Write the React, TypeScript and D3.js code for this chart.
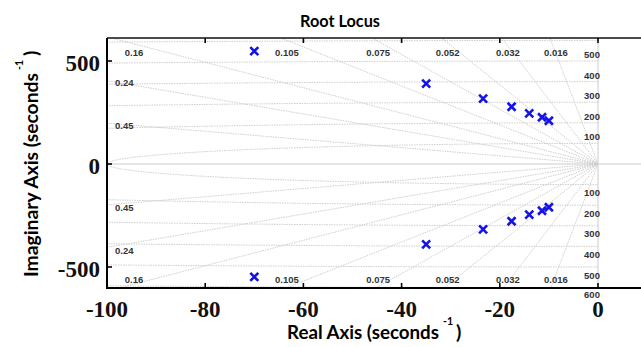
import React from "react";
import * as d3 from "d3";

const W = 641;
const H = 347;

const xTicks = [-100, -80, -60, -40, -20, 0];
const yTicks = [-500, 0, 500];
const dampingTop = [0.16, 0.105, 0.075, 0.052, 0.032, 0.016];
const dampingLeft = [0.24, 0.45];
const naturalFreqs = [100, 200, 300, 400, 500, 600];
const poleRe = [-70, -35, -23.4, -17.6, -14, -11.4, -10];
const poleIm = [548, 390, 317, 278, 246, 227, 210];

const PL = 107, PR = 641, PT = 38, PB = 288;

export default function App() {
  const x = d3.scaleLinear().domain([-100, 0]).range([107, 598]);
  const y = d3.scaleLinear().domain([-500, 500]).range([267, 61]);
  const allDamping = [...dampingTop, ...dampingLeft];
  const line = d3.line<[number, number]>().x((d) => x(d[0])).y((d) => y(d[1]));
  const arcPts = (r: number) =>
    d3.range(0, 181, 1).map((a) => {
      const t = Math.PI / 2 + (a * Math.PI) / 180;
      return [r * Math.cos(t), r * Math.sin(t)] as [number, number];
    });
  const gridStyle = { stroke: "#c8c8c8", strokeWidth: 0.9, fill: "none", strokeDasharray: "1.5,1" };
  const small = { fontFamily: "Liberation Sans, Arial, sans-serif", fontSize: 9.5, fontWeight: 700, fill: "#333" };
  const tickFont = { fontFamily: "Liberation Serif, Times New Roman, serif", fontSize: 23, fontWeight: 700, fill: "#111" };
  const labFont = { fontFamily: "Lato, Calibri, sans-serif", fontSize: 19.5, fontWeight: 700, fill: "#000" };
  const topVal = y.invert(PT);

  return (
    <svg width={W} height={H} style={{ position: "absolute", left: 0, top: 0, background: "#fff" }}>
      <defs>
        <clipPath id="plot">
          <rect x={PL} y={PT} width={PR - PL} height={PB - PT} />
        </clipPath>
      </defs>
      <g clipPath="url(#plot)">
        {allDamping.map((z) => {
          const s = Math.sqrt(1 - z * z) / z;
          return (
            <g key={z}>
              <path d={line([[0, 0], [-200, 200 * s]]) || ""} style={gridStyle} />
              <path d={line([[0, 0], [-200, -200 * s]]) || ""} style={gridStyle} />
            </g>
          );
        })}
        {naturalFreqs.map((r) => (
          <path key={r} d={line(arcPts(r)) || ""} style={gridStyle} />
        ))}
        <line x1={PL} x2={PR} y1={y(0)} y2={y(0)} stroke="#cccccc" strokeWidth={1} />
        <line x1={x(0)} x2={x(0)} y1={PT} y2={PB} stroke="#cccccc" strokeWidth={1} />
      </g>
      {dampingTop.map((z) => {
        const s = Math.sqrt(1 - z * z) / z;
        const cx = Math.max(x(-topVal / s) + 6, 134);
        return (
          <g key={"t" + z}>
            <text x={cx} y={55.5} textAnchor="middle" style={small}>{String(z)}</text>
            <text x={cx} y={282.5} textAnchor="middle" style={small}>{String(z)}</text>
          </g>
        );
      })}
      {dampingLeft.map((z) => {
        const s = Math.sqrt(1 - z * z) / z;
        const yv = 100 * s;
        return (
          <g key={"l" + z}>
            <text x={115} y={y(yv) + 5.5} style={small}>{String(z)}</text>
            <text x={115} y={y(-yv) + 6.5} style={small}>{String(z)}</text>
          </g>
        );
      })}
      {naturalFreqs.map((r) => (
        <g key={"w" + r}>
          {r < 600 && <text x={592} y={y(r) - 3} textAnchor="middle" style={small}>{String(r)}</text>}
          <text x={592} y={y(-r) + (r === 600 ? 10 : 11.5)} textAnchor="middle" style={small}>{String(r)}</text>
        </g>
      ))}
      {poleRe.map((re, i) =>
        [poleIm[i], -poleIm[i]].map((im, j) => {
          const cx = x(re), cy = y(im), d = 4;
          return (
            <path
              key={i + "_" + j}
              d={`M${cx - d},${cy - d}L${cx + d},${cy + d}M${cx - d},${cy + d}L${cx + d},${cy - d}`}
              stroke="#1414e6"
              strokeWidth={2.6}
            />
          );
        })
      )}
      {/* frame */}
      <line x1={PL} x2={PR} y1={PT} y2={PT} stroke="#111" strokeWidth={1.6} />
      <line x1={PL} x2={PL} y1={PT} y2={PB + 1} stroke="#000" strokeWidth={2} />
      <line x1={PL} x2={PR} y1={PB} y2={PB} stroke="#000" strokeWidth={2} />
      {xTicks.map((t) => (
        <g key={"xt" + t}>
          <line x1={x(t)} x2={x(t)} y1={PB} y2={PB - 5} stroke="#000" strokeWidth={1.6} />
          <line x1={x(t)} x2={x(t)} y1={PT} y2={PT + 5} stroke="#000" strokeWidth={1.6} />
          <text x={x(t)} y={316.5} textAnchor="middle" style={tickFont}>{String(t)}</text>
        </g>
      ))}
      {yTicks.map((t) => (
        <g key={"yt" + t}>
          <line x1={PL} x2={PL + 5} y1={y(t)} y2={y(t)} stroke="#000" strokeWidth={1.6} />
          <text x={100} y={y(t) + 10} textAnchor="end" style={tickFont}>{String(t)}</text>
        </g>
      ))}
      <text x={300} y={27} textLength={80} lengthAdjust="spacingAndGlyphs" style={{ ...labFont, fontSize: 17 }}>
        Root Locus
      </text>
      <text x={287} y={339} textLength={152} lengthAdjust="spacingAndGlyphs" style={labFont}>
        Real Axis (seconds
      </text>
      <text x={443} y={325} style={{ ...labFont, fontSize: 10.5 }}>-1</text>
      <text x={456} y={339} style={labFont}>)</text>
      <g transform="translate(38,277) rotate(-90)">
        <text x={0} y={0} textLength={204} lengthAdjust="spacingAndGlyphs" style={labFont}>
          Imaginary Axis (seconds
        </text>
        <text x={207} y={-15} style={{ ...labFont, fontSize: 10.5 }}>-1</text>
        <text x={221} y={0} style={labFont}>)</text>
      </g>
    </svg>
  );
}
